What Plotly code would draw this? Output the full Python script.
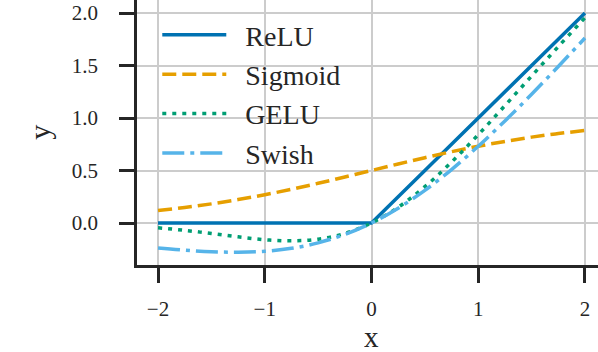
import plotly.graph_objects as go

# Sample positions and values
x_vals = [-2.0, -1.75, -1.5, -1.25, -1.0, -0.75, -0.5, -0.25, 0.0,
          0.25, 0.5, 0.75, 1.0, 1.25, 1.5, 1.75, 2.0]
relu_vals = [0.0, 0.0, 0.0, 0.0, 0.0, 0.0, 0.0, 0.0, 0.0,
             0.25, 0.5, 0.75, 1.0, 1.25, 1.5, 1.75, 2.0]
sigmoid_vals = [0.119, 0.148, 0.182, 0.223, 0.269, 0.321, 0.378, 0.438, 0.5,
                0.562, 0.622, 0.679, 0.731, 0.777, 0.818, 0.852, 0.881]
gelu_vals = [-0.046, -0.070, -0.100, -0.132, -0.159, -0.170, -0.154, -0.100, 0.0,
             0.150, 0.346, 0.580, 0.841, 1.118, 1.400, 1.680, 1.955]
swish_vals = [-0.238, -0.259, -0.274, -0.278, -0.269, -0.241, -0.189, -0.109, 0.0,
              0.141, 0.311, 0.509, 0.731, 0.972, 1.226, 1.491, 1.762]

series_names = ["ReLU", "Sigmoid", "GELU", "Swish"]
series_values = [relu_vals, sigmoid_vals, gelu_vals, swish_vals]
colors = ["#0072B2", "#E69F00", "#009E73", "#56B4E9"]
dashes = ["solid", "14px,6px", "4px,6px", "22px,6px,4px,6px"]
shapes = ["linear", "spline", "spline", "spline"]

x_ticks = [-2, -1, 0, 1, 2]
y_ticks = [0.0, 0.5, 1.0, 1.5, 2.0]
y_tick_text = ["0.0", "0.5", "1.0", "1.5", "2.0"]

FONT = "'Liberation Serif', 'DejaVu Serif', serif"
INK = "#262626"

fig = go.Figure()
for name, vals, c, d, s in zip(series_names, series_values, colors, dashes, shapes):
    fig.add_trace(go.Scatter(
        x=x_vals, y=vals, mode="lines", name="\u00a0\u00a0" + name,
        line=dict(color=c, width=3.5, dash=d, shape=s),
    ))

axis_common = dict(
    showline=True, linewidth=2.5, linecolor=INK, mirror=False,
    ticks="outside", ticklen=15, tickwidth=2.5, tickcolor=INK,
    showgrid=True, gridcolor="#cccccc", gridwidth=2,
    zeroline=False, automargin=False,
    tickfont=dict(family=FONT, size=21, color=INK),
)

fig.update_xaxes(range=[-2.197, 2.122], tickvals=x_ticks,
                 ticklabelstandoff=8, **axis_common)
fig.update_yaxes(range=[-0.40, 2.124], tickvals=y_ticks, ticktext=y_tick_text,
                 ticklabelstandoff=17, **axis_common)

fig.add_annotation(text="x", x=0, xref="x", y=-0.272, yref="paper",
                   yanchor="middle", height=22, showarrow=False,
                   font=dict(family=FONT, size=29, color=INK))
fig.add_annotation(text="y", x=-0.212, xref="paper", y=0.5, yref="paper",
                   xanchor="center", yanchor="middle", textangle=-90, showarrow=False,
                   font=dict(family=FONT, size=30, color=INK))

fig.update_layout(
    width=598, height=352,
    margin=dict(l=137, r=0, t=0, b=87, autoexpand=False),
    paper_bgcolor="white", plot_bgcolor="white",
    showlegend=True,
    legend=dict(
        x=0.044, y=0.962, xanchor="left", yanchor="top",
        bgcolor="rgba(0,0,0,0)", borderwidth=0,
        font=dict(family=FONT, size=28, color=INK),
        itemwidth=64,
    ),
)

fig.write_html("out.html",
               config={"displayModeBar": False},
               post_script="document.body.style.margin='0';document.body.style.padding='0';")
